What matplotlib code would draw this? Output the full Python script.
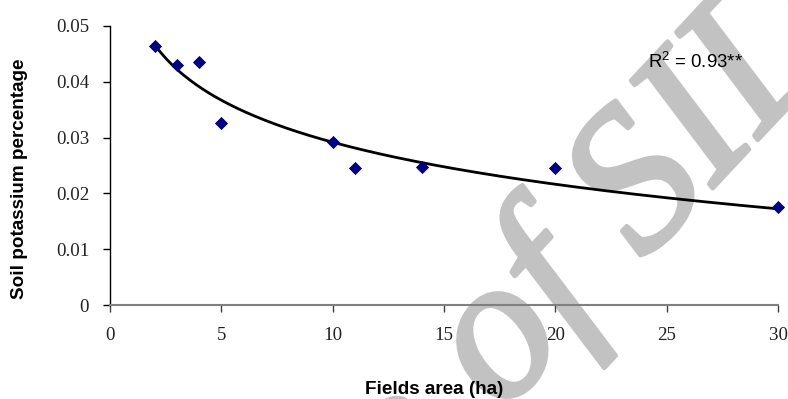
import numpy as np
import matplotlib
matplotlib.use("Agg")
import matplotlib.pyplot as plt
import matplotlib.patheffects as pe
from matplotlib.font_manager import FontProperties
from matplotlib.textpath import TextToPath

# Field size (ha) and soil potassium (%)
field_area = [2, 3, 4, 5, 10, 11, 14, 20, 30]
soil_k = [0.0464, 0.0431, 0.0435, 0.0327, 0.0292, 0.0246, 0.0248, 0.0246, 0.01755]
x_ticks = [0, 5, 10, 15, 20, 25, 30]
y_ticks = [0, 0.01, 0.02, 0.03, 0.04, 0.05]
y_tick_labels = ["0", "0.01", "0.02", "0.03", "0.04", "0.05"]
r2_label = "R$^{2}$ = 0.93**"

plt.rcParams["mathtext.default"] = "regular"

W, H, DPI = 788, 399, 100
fig = plt.figure(figsize=(W / DPI, H / DPI), dpi=DPI)

# Background watermark, placed so that "of" starts at (px, py) in pixels
wm_size = 146
wm_angle = 47
wm_color = "#c2c2c2"
wm_props = FontProperties(family="Liberation Serif", style="italic", size=wm_size)
lead_w, _, _ = TextToPath().get_text_width_height_descent("Archive ", wm_props, ismath=False)
lead_px = lead_w * DPI / 72.0
px, py = 502, 414
ang = np.deg2rad(wm_angle)
ax0 = px - lead_px * np.cos(ang)
ay0 = py + lead_px * np.sin(ang)
fig.text(ax0 / W, 1 - ay0 / H, "Archive of SID", fontproperties=wm_props,
         color=wm_color, rotation=wm_angle, rotation_mode="anchor",
         ha="left", va="baseline", zorder=-1,
         path_effects=[pe.withStroke(linewidth=3.5, foreground=wm_color)])

ax = fig.add_axes([110 / W, 1 - 305 / H, (778 - 110) / W, (305 - 26) / H])
ax.patch.set_alpha(0)

# Logarithmic trend line fitted to the observations
xa = np.array(field_area, dtype=float)
ya = np.array(soil_k, dtype=float)
b, a = np.polyfit(np.log(xa), ya, 1)
xf = np.linspace(xa.min(), xa.max(), 300)
ax.plot(xf, a + b * np.log(xf), color="black", lw=2.0, zorder=3, clip_on=False)

ax.scatter(field_area, soil_k, marker="D", s=45, color="#000080", zorder=4,
           clip_on=False, linewidths=0)

ax.set_xlim(0, 30)
ax.set_ylim(0, 0.05)
ax.set_xticks(x_ticks)
ax.set_yticks(y_ticks)
ax.set_yticklabels(y_tick_labels)
for lab in ax.get_xticklabels() + ax.get_yticklabels():
    lab.set_fontfamily("Liberation Serif")
    lab.set_fontsize(13.6)
    lab.set_color("#222222")

ax.spines["top"].set_visible(False)
ax.spines["right"].set_visible(False)
ax.spines["left"].set_color("black")
ax.spines["left"].set_linewidth(1.0)
ax.spines["bottom"].set_color("#808080")
ax.spines["bottom"].set_linewidth(1.5)
ax.tick_params(axis="y", direction="out", length=5, width=1, color="black", pad=10)
ax.tick_params(axis="x", direction="out", length=5, width=1, color="#404040", pad=11)

ax.text(648 / W, 1 - 68 / H, r2_label, transform=fig.transFigure,
        fontfamily="Liberation Sans", fontsize=13.4, ha="left", va="baseline")

fig.text(20 / W, 1 - 179 / H, "Soil potassium percentage", rotation=90,
         fontfamily="Liberation Sans", fontweight="bold", fontsize=13.6,
         ha="center", va="center")
fig.text(434 / W, 1 - 394 / H, "Fields area (ha)",
         fontfamily="Liberation Sans", fontweight="bold", fontsize=13.6,
         ha="center", va="baseline")

fig.savefig("out.png", dpi=DPI, facecolor="white")
